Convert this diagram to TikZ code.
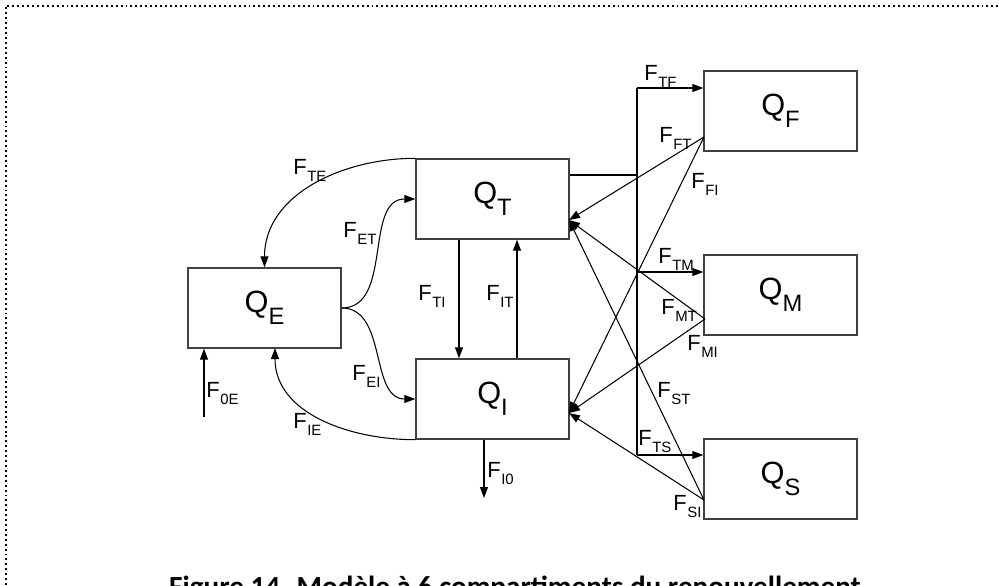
\documentclass[tikz,border=0pt]{standalone}
\usepackage{fontspec}
\setmainfont{Liberation Sans}
\newfontfamily\capfont{Carlito}
\usetikzlibrary{arrows.meta}

\newcommand{\Fsub}[1]{F\kern0.3pt\raisebox{-4pt}{\fontsize{8.5}{8.5}\selectfont #1}}
\newcommand{\Qsub}[1]{Q\raisebox{-7pt}{\fontsize{13.5}{13.5}\selectfont #1}}

\tikzset{
  comp/.style={draw=black!75,line width=0.8pt,minimum width=3.06cm,
    minimum height=1.6cm,inner sep=0pt,font=\fontsize{17.5}{17.5}\selectfont},
  flow/.style={line width=0.6pt,-{Triangle[length=2.2mm,width=1.6mm]}},
  flab/.style={anchor=base west,inner sep=0pt,font=\fontsize{12.5}{12.5}\selectfont},
}

\begin{document}
\begin{tikzpicture}[x=0.02cm,y=-0.02cm]
  \useasboundingbox (0,0) rectangle (999,585);
  \draw[line width=1pt,dash pattern=on 1.1pt off 1.7pt] (6,585) -- (6,6) -- (999,6);

  % compartments
  \begin{scope}[every node/.style=comp]
    \node (QE) at (264.5,308) {\Qsub{E}};
    \node (QT) at (492.5,199) {\Qsub{T}};
    \node (QI) at (492.5,399) {\Qsub{I}};
    \node (QF) at (780.5,111) {\Qsub{F}};
    \node (QM) at (780.5,295) {\Qsub{M}};
    \node (QS) at (780.5,479) {\Qsub{S}};
  \end{scope}

  % points on the bar and the box sides
  \coordinate (barF) at (637,88);
  \coordinate (barT) at (637,175);
  \coordinate (barM) at (637,272);
  \coordinate (barS) at (637,455);
  \coordinate (inT)  at (569,220);
  \coordinate (inI)  at (569,413);
  \coordinate (outF) at (704,137);
  \coordinate (outM) at (705,319);
  \coordinate (outS) at (704,500);
  \coordinate (inE)  at (275,348);

  % flows around Q_E
  \draw[flow] (QT.north west) to[out=180,in=90] (QE.north);
  \draw[flow] (QE.east) to[out=0,in=180] (QT.west);
  \draw[flow] (QE.east) to[out=0,in=180] (QI.west);
  \draw[flow] (QI.south west) to[out=180,in=-90] (inE);
  \draw[flow] (204,417) -- (204,0 |- QE.south);

  % flows between Q_T and Q_I
  \draw[flow] (459,0 |- QT.south) -- (459,0 |- QI.north);
  \draw[flow] (517,0 |- QI.north) -- (517,0 |- QT.south);
  \draw[flow] (484,0 |- QI.south) -- (484,498);

  % flows to the organs
  \draw[line width=0.6pt] (QT.east |- barT) -- (barT);
  \draw[line width=0.6pt] (barF) -- (barS);
  \draw[flow] (barF) -- (barF -| QF.west);
  \draw[flow] (barM) -- (barM -| QM.west);
  \draw[flow] (barS) -- (barS -| QS.west);
  \foreach \o in {outF,outM,outS} {
    \draw[flow] (\o) -- (inT);
    \draw[flow] (\o) -- (inI);
  }

  % flow labels
  \begin{scope}[every node/.style=flab]
    \node (lTE) at (293,174) {\Fsub{TE}};
    \node (lET) at (343,237) {\Fsub{ET}};
    \node (lEI) at (352,380) {\Fsub{EI}};
    \node (lIE) at (293,428) {\Fsub{IE}};
    \node (l0E) at (206,397) {\Fsub{0E}};
    \node (lTI) at (418,300) {\Fsub{TI}};
    \node (lIT) at (486,300) {\Fsub{IT}};
    \node (lI0) at (487,477) {\Fsub{I0}};
    \node (lTF) at (644,80)  {\Fsub{TF}};
    \node (lFT) at (659,142) {\Fsub{FT}};
    \node (lFI) at (691,188) {\Fsub{FI}};
    \node (lTM) at (658,263) {\Fsub{TM}};
    \node (lMT) at (661,314) {\Fsub{MT}};
    \node (lMI) at (687,350) {\Fsub{MI}};
    \node (lST) at (657,397) {\Fsub{ST}};
    \node (lTS) at (638,445) {\Fsub{TS}};
    \node (lSI) at (673,510) {\Fsub{SI}};
  \end{scope}

  \node[anchor=base,inner sep=0pt,font=\capfont\bfseries\fontsize{16.6}{16.6}\selectfont]
    (cap) at (515,596) {Figure 14. Modèle à 6 compartiments du renouvellement};
\end{tikzpicture}
\end{document}
